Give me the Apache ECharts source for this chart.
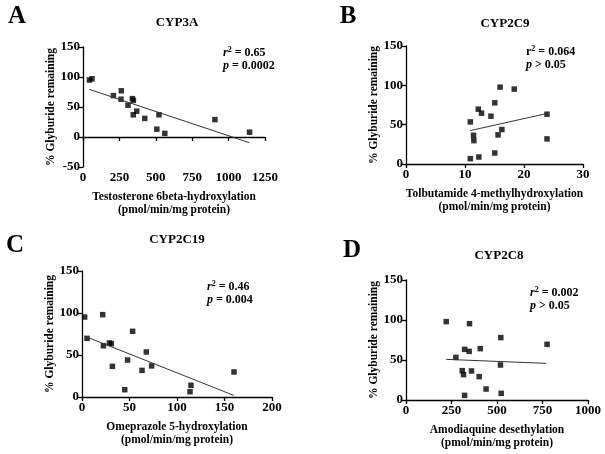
<!DOCTYPE html>
<html>
<head>
<meta charset="utf-8">
<script src="https://cdn.jsdelivr.net/npm/echarts@6/dist/echarts.min.js"></script>
<style>
  html, body { margin: 0; padding: 0; background: #fff; }
  #chart { width: 605px; height: 454px; }
</style>
</head>
<body>
<div id="chart"></div>
<script>
// panel A - CYP3A
const aX = [44, 62, 209, 263, 261, 309, 339, 346, 369, 345, 424, 507, 522, 562, 906, 1144];
const aY = [95, 97, 69, 77, 63, 53, 64, 61, 43, 37, 31, 13, 37, 6, 29, 8];
const aFit = [[43, 79.4], [1142, -9.4]];
// panel B - CYP2C9
const bX = [10.9, 10.9, 11.45, 11.5, 12.25, 12.35, 12.8, 14.4, 15.05, 15.05, 15.6, 15.95, 16.25, 18.35, 23.9, 23.9];
const bY = [53.5, 6.8, 36.5, 29.7, 69.7, 8.9, 64.6, 60.8, 77.8, 14, 37, 97.7, 43.8, 95.2, 63.3, 31.9];
const bFit = [[10.9, 42.5], [23.9, 64.2]];
// panel C - CYP2C19
const cX = [2.8, 21.8, 5.3, 22.5, 28.8, 30.9, 32, 53.3, 48, 67.7, 63.2, 73.3, 45, 113.7, 114.7, 160];
const cY = [95.2, 98, 69.8, 61, 64.3, 63.5, 36.5, 78.2, 44, 53.6, 31.7, 37, 8.7, 6.3, 13.9, 29.8];
const cFit = [[4.2, 71.8], [159.6, 2]];
// panel D - CYP2C8
const dX = [221, 349, 521, 775, 322, 347, 408, 274, 519, 309, 316, 360, 402, 440, 322, 523];
const dY = [98, 95.4, 78, 69.6, 63.3, 60.8, 64.2, 53.3, 43.75, 36.7, 31.7, 36.3, 29.2, 13.75, 5.8, 8.3];
const dFit = [[221, 50.8], [771, 45.8]];

const titles = ['CYP3A', 'CYP2C9', 'CYP2C19', 'CYP2C8'];
const letters = ['A', 'B', 'C', 'D'];
const xNames = [
  'Testosterone 6beta-hydroxylation\n(pmol/min/mg protein)',
  'Tolbutamide 4-methylhydroxylation\n(pmol/min/mg protein)',
  'Omeprazole 5-hydroxylation\n(pmol/min/mg protein)',
  'Amodiaquine desethylation\n(pmol/min/mg protein)'
];
const yName = '% Glyburide remaining';
const rText = ['0.65', '0.064', '0.46', '0.002'];
const pText = ['p = 0.0002', 'p > 0.05', 'p = 0.004', 'p > 0.05'];

const xMax = [1250, 30, 200, 1000];
const xStep = [250, 10, 50, 250];
const yMin = [-50, 0, 0, 0];

const FONT = '"Liberation Serif", "Times New Roman", serif';

const grids = [
  { left: 83, top: 47, width: 182, height: 120 },
  { left: 406, top: 46, width: 177, height: 118 },
  { left: 82, top: 271, width: 190, height: 126 },
  { left: 406, top: 280, width: 182, height: 120 }
];

const xs = [aX, bX, cX, dX];
const ys = [aY, bY, cY, dY];
const fits = [aFit, bFit, cFit, dFit];

let myChart = echarts.init(document.getElementById('chart'));

let xAxis = [], yAxis = [], series = [];
for (let i = 0; i < 4; i++) {
  xAxis.push({
    gridIndex: i,
    type: 'value',
    min: 0,
    max: xMax[i],
    interval: xStep[i],
    name: xNames[i],
    nameLocation: 'middle',
    nameGap: 23,
    nameTextStyle: { fontFamily: FONT, fontWeight: 'bold', fontSize: 11.5, color: '#000', lineHeight: 13.5, verticalAlign: 'top' },
    splitLine: { show: false },
    axisLine: { lineStyle: { color: '#000', width: 1.3 } },
    axisTick: { length: 4, lineStyle: { color: '#000', width: 1.3 } },
    axisLabel: { fontFamily: FONT, fontWeight: 'bold', fontSize: 13, color: '#000', margin: 4, formatter: v => String(v) }
  });
  yAxis.push({
    gridIndex: i,
    type: 'value',
    min: yMin[i],
    max: 150,
    interval: 50,
    name: yName,
    nameLocation: 'middle',
    nameRotate: 90,
    nameGap: 24,
    nameTextStyle: { fontFamily: FONT, fontWeight: 'bold', fontSize: 11.5, color: '#000' },
    splitLine: { show: false },
    axisLine: { show: true, lineStyle: { color: '#000', width: 1.3 } },
    axisTick: { show: true, length: 4, lineStyle: { color: '#000', width: 1.3 } },
    axisLabel: { fontFamily: FONT, fontWeight: 'bold', fontSize: 13, color: '#000', margin: 3, formatter: v => String(v) }
  });
  series.push({
    type: 'scatter',
    xAxisIndex: i,
    yAxisIndex: i,
    symbol: 'rect',
    symbolSize: 5.5,
    itemStyle: { color: '#000' },
    data: xs[i].map((v, k) => [v, ys[i][k]])
  });
  series.push({
    type: 'line',
    xAxisIndex: i,
    yAxisIndex: i,
    symbol: 'none',
    lineStyle: { color: '#333', width: 1 },
    data: fits[i]
  });
}

// text positions
const letterPos = [[17, 16], [348, 16], [15, 245], [352, 250]];
const titlePos = [[177, 23], [505, 24], [177, 240], [499, 256]];
const statPos = [[223, 53], [526, 52], [207, 287], [530, 293]];

let graphic = [];
for (let i = 0; i < 4; i++) {
  graphic.push({
    type: 'text',
    x: letterPos[i][0], y: letterPos[i][1] + 1,
    style: { text: letters[i], font: 'bold 25px ' + FONT, fill: '#000', align: 'center', verticalAlign: 'middle' }
  });
  graphic.push({
    type: 'text',
    x: titlePos[i][0], y: titlePos[i][1],
    style: { text: titles[i], font: 'bold 13px ' + FONT, fill: '#000', align: 'center', verticalAlign: 'middle' }
  });
  let rStyle = i === 1 ? 'n' : 'i';
  graphic.push({
    type: 'text',
    x: statPos[i][0], y: statPos[i][1] - 7,
    style: {
      text: '{' + rStyle + '|r}{s|2}{n| = ' + rText[i] + '}\n{i|p}{n|' + pText[i].slice(1) + '}',
      fill: '#000',
      verticalAlign: 'top',
      lineHeight: 13,
      rich: {
        n: { font: 'bold 12px ' + FONT, fill: '#000', lineHeight: 13 },
        i: { font: 'italic bold 12px ' + FONT, fill: '#000', lineHeight: 13 },
        s: { font: 'bold 8px ' + FONT, fill: '#000', lineHeight: 13, padding: [0, 0, 6, 0] }
      }
    }
  });
}

myChart.setOption({
  backgroundColor: '#fff',
  animation: false,
  grid: grids,
  xAxis: xAxis,
  yAxis: yAxis,
  series: series,
  graphic: graphic
});
</script>
</body>
</html>
